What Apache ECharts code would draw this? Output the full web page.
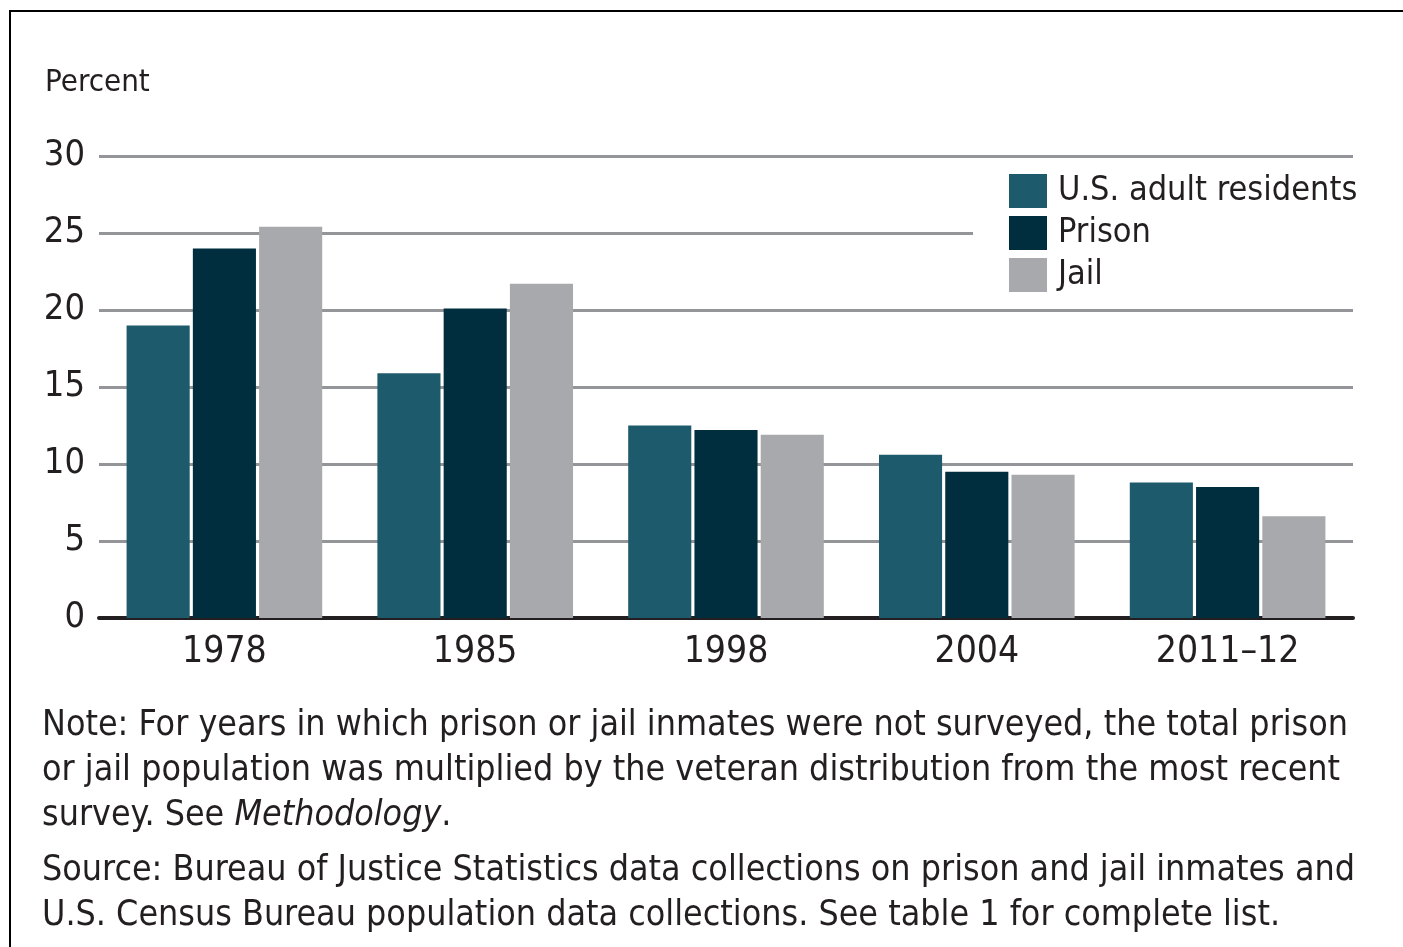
<!DOCTYPE html>
<html>
<head>
<meta charset="utf-8">
<title>Veterans share by year</title>
<script src="https://cdn.jsdelivr.net/npm/echarts@6/dist/echarts.min.js"></script>
<style>
  html, body { margin: 0; padding: 0; background: #fff; }
  #chart { width: 1403px; height: 947px; }
</style>
</head>
<body>
<div id="chart"></div>
<script>
const years = ['1978', '1985', '1998', '2004', '2011\u201312']
const residents = [19.0, 15.9, 12.5, 10.6, 8.8]
const prison = [24.0, 20.1, 12.2, 9.5, 8.5]
const jail = [25.4, 21.7, 11.9, 9.3, 6.6]
const yTicks = [0, 5, 10, 15, 20, 25, 30]

const font = '"Liberation Sans Narrow", "DejaVu Sans Condensed", "Noto Sans", sans-serif'
const textColor = '#231f20'

const noteLines = [
  'Note: For years in which prison or jail inmates were not surveyed, the total prison',
  'or jail population was multiplied by the veteran distribution from the most recent',
  'survey. See {i|Methodology}.'
]
const sourceLines = [
  'Source: Bureau of Justice Statistics data collections on prison and jail inmates and',
  'U.S. Census Bureau population data collections. See table 1 for complete list.'
]

const chart = echarts.init(document.getElementById('chart'))

const textStyleBase = { fontFamily: font, fontSize: 35.5, fill: textColor }

chart.setOption({
  animation: false,
  backgroundColor: '#fff',
  textStyle: { fontFamily: font },
  grid: { left: 99, right: 50, top: 156, bottom: 329, containLabel: false },
  legend: {
    orient: 'vertical',
    left: 973,
    top: 168,
    padding: [6, 8, 6, 36],
    backgroundColor: '#fff',
    itemWidth: 38,
    itemHeight: 34,
    itemGap: 8,
    icon: 'rect',
    textStyle: { fontFamily: font, fontSize: 34, color: textColor, padding: [0, 0, 0, 6] },
    data: ['U.S. adult residents', 'Prison', 'Jail']
  },
  xAxis: {
    type: 'category',
    data: years,
    axisLine: { lineStyle: { color: textColor, width: 4 } },
    axisTick: { show: false },
    axisLabel: { fontFamily: font, fontSize: 37, color: textColor, margin: 16 }
  },
  yAxis: {
    type: 'value',
    min: 0,
    max: 30,
    interval: 5,
    axisLine: { show: false },
    axisTick: { show: false },
    splitLine: { lineStyle: { color: '#939598', width: 3 } },
    axisLabel: {
      fontFamily: font, fontSize: 36, color: textColor, margin: 14,
      formatter: v => yTicks.includes(v) ? String(v) : ''
    },
    name: 'Percent',
    nameLocation: 'end',
    nameGap: 58,
    nameTextStyle: { fontFamily: font, fontSize: 31, color: textColor, align: 'left', padding: [0, 0, 0, -54] }
  },
  series: [
    { name: 'U.S. adult residents', type: 'bar', data: residents, itemStyle: { color: '#1d5a6b' }, barGap: '5%', barCategoryGap: '22%' },
    { name: 'Prison', type: 'bar', data: prison, itemStyle: { color: '#012e3e' } },
    { name: 'Jail', type: 'bar', data: jail, itemStyle: { color: '#a8a9ac' } }
  ],
  graphic: [
    { type: 'line', shape: { x1: 10, y1: 11, x2: 1403, y2: 11 }, style: { stroke: '#000', lineWidth: 2 } },
    { type: 'line', shape: { x1: 10, y1: 10, x2: 10, y2: 947 }, style: { stroke: '#000', lineWidth: 2 } },
    {
      type: 'text', left: 42, top: 703,
      style: Object.assign({}, textStyleBase, {
        text: noteLines.join('\n'),
        lineHeight: 45,
        rich: { i: { fontFamily: font, fontSize: 35.5, fontStyle: 'italic', fill: textColor } }
      })
    },
    {
      type: 'text', left: 42, top: 848,
      style: Object.assign({}, textStyleBase, {
        text: sourceLines.join('\n'),
        lineHeight: 45
      })
    }
  ]
})
</script>
</body>
</html>
